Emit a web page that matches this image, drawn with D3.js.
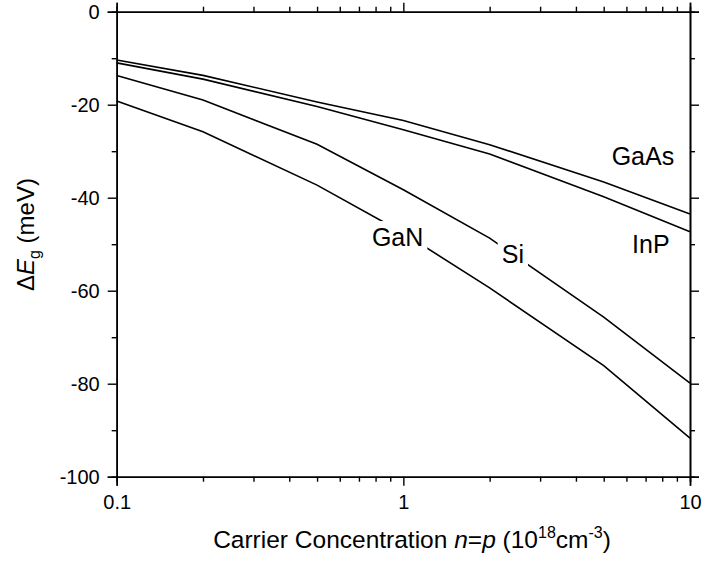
<!DOCTYPE html>
<html>
<head>
<meta charset="utf-8">
<script src="https://cdn.jsdelivr.net/npm/d3@7"></script>
<style>
  html, body { margin: 0; padding: 0; background: #fff; }
  svg { display: block; font-family: "Liberation Sans", Arial, sans-serif; }
</style>
</head>
<body>
<svg id="chart" width="702" height="568"></svg>
<script>
// Carrier concentration in units of 10^18 cm^-3
const concentration = [0.1, 0.2, 0.5, 1, 2, 5, 10];

// Band-gap narrowing (meV) for each material
const gaAs = [-10.4, -13.7, -19.4, -23.4, -28.6, -36.6, -43.5];
const inP  = [-11.0, -14.5, -20.4, -25.4, -30.6, -39.8, -47.3];
const si   = [-13.7, -19.0, -28.5, -38.3, -48.7, -65.7, -79.9];
const gaN  = [-19.2, -25.8, -37.3, -47.6, -59.4, -76.1, -91.7];

const seriesNames = ["GaAs", "InP", "Si", "GaN"];
const seriesValues = [gaAs, inP, si, gaN];

// Axis ticks
const xMajorTicks = [0.1, 1, 10];
const xTickLabels = ["0.1", "1", "10"];
const yMajorTicks = [0, -20, -40, -60, -80, -100];
const yMinorTicks = [-10, -30, -50, -70, -90];

// Curve label placement: [concentration, meV of baseline, clears the line behind it]
const labelPos = {
  GaAs: [6.85, -33.0, false],
  InP:  [7.3, -51.9, false],
  Si:   [2.41, -54.0, true],
  GaN:  [0.955, -50.4, true]
};

const svg = d3.select("#chart");
const plotLeft = 116.7, plotRight = 690, plotTop = 11.7, plotBottom = 476.7;

const x = d3.scaleLog().domain([0.1, 10]).range([plotLeft, plotRight]);
const y = d3.scaleLinear().domain([-100, 0]).range([plotBottom, plotTop]);

const xMinor = [];
[0.1, 1].forEach(d => { for (let k = 2; k <= 9; k++) xMinor.push(+(d * k).toFixed(3)); });

const fontTick = 20;

function styleAxis(g) {
  g.selectAll("path.domain").attr("stroke", "#000").attr("stroke-width", 1.6);
  g.selectAll(".tick line").attr("stroke", "#000").attr("stroke-width", 1.4);
  g.selectAll(".tick text").attr("fill", "#000")
    .style("font-size", fontTick + "px")
    .style("font-family", "'Liberation Sans', Arial, sans-serif");
}

// Bottom axis (labelled)
svg.append("g").attr("transform", `translate(0,${plotBottom})`)
  .call(d3.axisBottom(x).tickValues(xMajorTicks)
    .tickFormat((d, i) => xTickLabels[i]).tickSize(9).tickPadding(9.5))
  .call(styleAxis);
svg.append("g").attr("transform", `translate(0,${plotBottom})`)
  .call(d3.axisBottom(x).tickValues(xMinor).tickFormat("").tickSize(5))
  .call(styleAxis);

// Top axis (ticks only)
svg.append("g").attr("transform", `translate(0,${plotTop})`)
  .call(d3.axisTop(x).tickValues(xMajorTicks).tickFormat("").tickSize(9))
  .call(styleAxis);
svg.append("g").attr("transform", `translate(0,${plotTop})`)
  .call(d3.axisTop(x).tickValues(xMinor).tickFormat("").tickSize(5))
  .call(styleAxis);

// Left axis (labelled)
svg.append("g").attr("transform", `translate(${plotLeft},0)`)
  .call(d3.axisLeft(y).tickValues(yMajorTicks).tickFormat(d => String(d))
    .tickSize(9).tickPadding(8))
  .call(styleAxis);
svg.append("g").attr("transform", `translate(${plotLeft},0)`)
  .call(d3.axisLeft(y).tickValues(yMinorTicks).tickFormat("").tickSize(5))
  .call(styleAxis);

// Right axis (ticks only)
svg.append("g").attr("transform", `translate(${plotRight},0)`)
  .call(d3.axisRight(y).tickValues(yMajorTicks).tickFormat("").tickSize(9))
  .call(styleAxis);
svg.append("g").attr("transform", `translate(${plotRight},0)`)
  .call(d3.axisRight(y).tickValues(yMinorTicks).tickFormat("").tickSize(5))
  .call(styleAxis);

// Curves
const line = d3.line()
  .x((d, i) => x(concentration[i]))
  .y(d => y(d));

seriesValues.forEach(vals => {
  svg.append("path")
    .attr("d", line(vals))
    .attr("fill", "none")
    .attr("stroke", "#000")
    .attr("stroke-width", 1.6);
});

// Curve labels; some sit in a white gap cut out of their curve
seriesNames.forEach(name => {
  const [cx, cy, knockout] = labelPos[name];
  const t = svg.append("text")
    .attr("x", x(cx)).attr("y", y(cy))
    .attr("text-anchor", "middle")
    .style("font-size", "25px")
    .attr("fill", "#000")
    .text(name);
  if (knockout) {
    const b = t.node().getBBox();
    svg.insert("rect", () => t.node())
      .attr("x", b.x - 4).attr("y", b.y - 2)
      .attr("width", b.width + 8).attr("height", b.height + 4)
      .attr("fill", "#fff");
  }
});

// X axis title
const xt = svg.append("text")
  .attr("x", 412).attr("y", 548)
  .attr("text-anchor", "middle")
  .style("font-size", "24.5px")
  .attr("fill", "#000");
xt.append("tspan").text("Carrier Concentration ");
xt.append("tspan").style("font-style", "italic").text("n");
xt.append("tspan").text("=");
xt.append("tspan").style("font-style", "italic").text("p");
xt.append("tspan").text(" (10");
xt.append("tspan").attr("dy", -10).style("font-size", "16px").text("18");
xt.append("tspan").attr("dy", 10).text("cm");
xt.append("tspan").attr("dy", -10).style("font-size", "16px").text("-3");
xt.append("tspan").attr("dy", 10).text(")");

// Y axis title, reading upward from just below the plot's middle
const yt = svg.append("text")
  .attr("transform", `translate(34,291) rotate(-90)`)
  .attr("text-anchor", "start")
  .style("font-size", "24px")
  .attr("fill", "#000");
yt.append("tspan").text("Δ");
yt.append("tspan").style("font-style", "italic").text("E");
yt.append("tspan").attr("dy", 6).style("font-size", "16px").text("g");
yt.append("tspan").attr("dy", -6).text(" (meV)");
</script>
</body>
</html>
